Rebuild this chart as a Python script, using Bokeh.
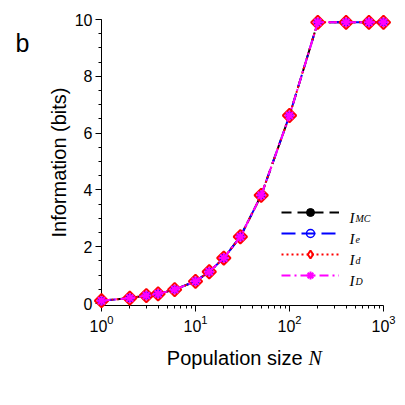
from bokeh.plotting import figure
from bokeh.models import Label, Legend, LegendItem, Range1d, FixedTicker
from bokeh.core.properties import value
from bokeh.embed import file_html
from bokeh.resources import INLINE

# Population sizes and information estimates (bits)
pop_size = [1, 2, 3, 4, 6, 10, 14, 20, 30, 50, 100, 200, 400, 700, 1000]
info_mc = [0.10, 0.19, 0.28, 0.34, 0.49, 0.78, 1.12, 1.60, 2.35, 3.81, 6.62, 9.90, 9.90, 9.90, 9.90]
info_e = [0.10, 0.19, 0.28, 0.34, 0.49, 0.78, 1.12, 1.60, 2.35, 3.81, 6.62, 9.90, 9.90, 9.90, 9.90]
info_d = [0.10, 0.19, 0.28, 0.34, 0.49, 0.78, 1.12, 1.60, 2.35, 3.81, 6.62, 9.90, 9.90, 9.90, 9.90]
info_D = [0.10, 0.19, 0.28, 0.34, 0.49, 0.78, 1.12, 1.60, 2.35, 3.81, 6.62, 9.90, 9.90, 9.90, 9.90]

legend_main = ["I", "I", "I", "I"]
legend_sub = ["MC", "e", "d", "D"]
x_ticks = [1, 10, 100, 1000]
y_ticks = [0, 2, 4, 6, 8, 10]

SANS = "Liberation Sans"
SERIF = "Liberation Serif"

X0, X1 = 1, 1000
Y0, Y1 = -0.07, 10

p = figure(width=405, height=405, x_axis_type="log",
           x_range=Range1d(X0, X1), y_range=Range1d(Y0, Y1),
           output_backend="svg", toolbar_location=None,
           min_border_left=101, min_border_right=22, min_border_top=19, min_border_bottom=100)
p.outline_line_color = None
p.grid.visible = False
p.background_fill_color = "white"
p.border_fill_color = "white"

xa = p.xaxis[0]
ya = p.yaxis[0]
xa.ticker = FixedTicker(ticks=x_ticks,
                        minor_ticks=[m * 10 ** d for d in range(3) for m in range(2, 10)])
ya.ticker = FixedTicker(ticks=y_ticks, minor_ticks=[k * 0.5 for k in range(21)])
for ax in (xa, ya):
    ax.axis_line_width = 1
    ax.axis_line_color = "black"
    ax.major_tick_in = 0
    ax.major_tick_out = 6
    ax.minor_tick_in = 0
    ax.minor_tick_out = 3
    ax.major_tick_line_color = "black"
    ax.minor_tick_line_color = "black"
    ax.major_label_text_font = SANS
    ax.major_label_text_font_size = "16px"
    ax.major_label_text_color = "black"
    ax.axis_label_text_font = SANS
    ax.axis_label_text_font_size = "20px"
    ax.axis_label_text_font_style = "normal"
    ax.axis_label_text_color = "black"
ya.axis_label = "Information (bits)"
ya.axis_label_standoff = 2
ya.major_label_standoff = 3
xa.major_label_standoff = 3

# series (overlay level so edge markers are not cut by the frame)
r1 = p.line(pop_size, info_mc, line_color="black", line_width=2, line_dash="10 6", level="overlay")
s1 = p.scatter(pop_size, info_mc, marker="circle", size=5, fill_color="black",
               line_color="black", level="overlay")
r2 = p.line(pop_size, info_e, line_color="blue", line_width=2, line_dash="14 6", level="overlay")
s2 = p.scatter(pop_size, info_e, marker="circle", size=7, fill_color=None, line_color="blue",
               line_width=1.5, level="overlay")
r3 = p.line(pop_size, info_d, line_color="red", line_width=2, line_dash="2 3", level="overlay")
s3 = p.scatter(pop_size, info_d, marker="square", angle=0.7853982, size=9.5, fill_color=None,
               line_color="red", line_width=2, level="overlay")
# diamond stand-in used only for the legend swatch
s3_key = p.scatter(pop_size, info_d, marker="diamond", size=13, fill_color=None,
                   line_color="red", line_width=2, visible=False)
r4 = p.line(pop_size, info_D, line_color="magenta", line_width=2, line_dash="9 4 2 4",
            level="overlay")
s4 = p.scatter(pop_size, info_D, marker="asterisk", size=10, line_color="magenta",
               line_width=2, level="overlay")

legend = Legend(items=[LegendItem(label="", renderers=[r1, s1]),
                       LegendItem(label="", renderers=[r2, s2]),
                       LegendItem(label="", renderers=[r3, s3_key]),
                       LegendItem(label="", renderers=[r4, s4])],
                location=(180, 20), glyph_width=58, glyph_height=20, spacing=1,
                padding=0, margin=0, label_width=0, label_standoff=0,
                border_line_alpha=0, background_fill_alpha=0)
p.add_layout(legend)

# legend texts with subscripts
row_y = [93, 72, 51, 30]
for main, sub, yy in zip(legend_main, legend_sub, row_y):
    p.add_layout(Label(x=248, y=yy - 5, x_units="screen", y_units="screen", text=main,
                       text_font=SERIF, text_font_style="italic", text_font_size="15px",
                       text_baseline="alphabetic", text_color="black"))
    p.add_layout(Label(x=254, y=yy - 6, x_units="screen", y_units="screen", text=sub,
                       text_font=SERIF, text_font_style="italic", text_font_size="10px",
                       text_baseline="alphabetic", text_color="black"))

# x-axis title with italic N, placed below the frame centre
xc = (X0 * X1) ** 0.5
p.text(x=[xc], y=[Y0], text=["Population size"], x_offset=60, y_offset=52,
       text_align="right", text_baseline="alphabetic", text_font=value(SANS),
       text_font_size="20px", text_color="black", level="overlay")
p.text(x=[xc], y=[Y0], text=["N"], x_offset=66, y_offset=52,
       text_align="left", text_baseline="alphabetic", text_font=value(SERIF),
       text_font_style="italic", text_font_size="20px", text_color="black", level="overlay")

# panel letter
p.text(x=[X0], y=[Y1], text=["b"], x_offset=-86, y_offset=23,
       text_align="left", text_baseline="alphabetic", text_font=value(SANS),
       text_font_size="25px", text_color="black", level="overlay")

open("out.html", "w").write(file_html(p, INLINE))
